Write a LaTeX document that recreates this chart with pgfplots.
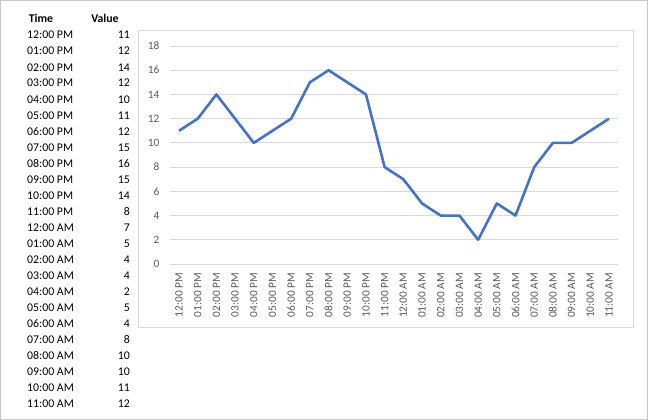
\documentclass[border=0pt]{standalone}
\usepackage{pgfplots}
\pgfplotsset{compat=1.18}
\usepackage{fontspec}
\setmainfont{Carlito}
\definecolor{xlblue}{HTML}{4472C4}
\definecolor{gridc}{HTML}{D9D9D9}
\definecolor{txtc}{HTML}{595959}
\begin{document}
\begin{tikzpicture}
\useasboundingbox (0pt,0pt) rectangle (648pt,-420pt);
\draw[color=black!22, line width=1pt] (0.5pt,-0.5pt) rectangle (647.5pt,-419.5pt);
\draw[gridc, line width=1pt] (138.5pt,-30.5pt) rectangle (633.5pt,-327.5pt);
\node[font=\fontsize{11.8}{14}\selectfont\bfseries, anchor=base, inner sep=0pt] at (41pt,-23pt) {Time};
\node[font=\fontsize{11.8}{14}\selectfont\bfseries, anchor=base, inner sep=0pt] at (105pt,-23pt) {Value};
\foreach \t/\v [count=\i from 0] in {12:00 PM/11,01:00 PM/12,02:00 PM/14,03:00 PM/12,04:00 PM/10,05:00 PM/11,06:00 PM/12,07:00 PM/15,08:00 PM/16,09:00 PM/15,10:00 PM/14,11:00 PM/8,12:00 AM/7,01:00 AM/5,02:00 AM/4,03:00 AM/4,04:00 AM/2,05:00 AM/5,06:00 AM/4,07:00 AM/8,08:00 AM/10,09:00 AM/10,10:00 AM/11,11:00 AM/12} {
  \node[anchor=base west, inner sep=0pt, font=\fontsize{11.8}{14}\selectfont] at (27pt,{(-39-16*\i)*1pt}) {\t};
  \node[anchor=base east, inner sep=0pt, font=\fontsize{11.8}{14}\selectfont] at (130pt,{(-39-16*\i)*1pt}) {\v};
}
\begin{axis}[
  at={(169.65pt,-264pt)}, anchor=south west,
  scale only axis, width=448.7pt, height=218pt,
  xmin=-0.5, xmax=23.5, ymin=0, ymax=18,
  axis line style={draw=none},
  tick style={draw=none},
  ymajorgrids, major grid style={gridc, line width=1pt},
  xtick={0,...,23},
  xticklabels={12:00 PM,01:00 PM,02:00 PM,03:00 PM,04:00 PM,05:00 PM,06:00 PM,07:00 PM,08:00 PM,09:00 PM,10:00 PM,11:00 PM,12:00 AM,01:00 AM,02:00 AM,03:00 AM,04:00 AM,05:00 AM,06:00 AM,07:00 AM,08:00 AM,09:00 AM,10:00 AM,11:00 AM},
  xticklabel style={rotate=90, anchor=east, inner sep=0pt, text=txtc, font=\fontsize{11.3}{13}\selectfont},
  xticklabel shift=9pt,
  ytick={0,2,...,18},
  yticklabel style={anchor=east, inner sep=0pt, text=txtc, font=\fontsize{11.3}{13}\selectfont},
  yticklabel shift=10pt,
  /pgf/number format/assume math mode=true,
  clip=false,
]
\addplot[xlblue, line width=2.6pt, line join=round, mark=none] coordinates {
(0,11) (1,12) (2,14) (3,12) (4,10) (5,11) (6,12) (7,15) (8,16) (9,15) (10,14) (11,8)
(12,7) (13,5) (14,4) (15,4) (16,2) (17,5) (18,4) (19,8) (20,10) (21,10) (22,11) (23,12)
};
\end{axis}
\end{tikzpicture}
\end{document}
